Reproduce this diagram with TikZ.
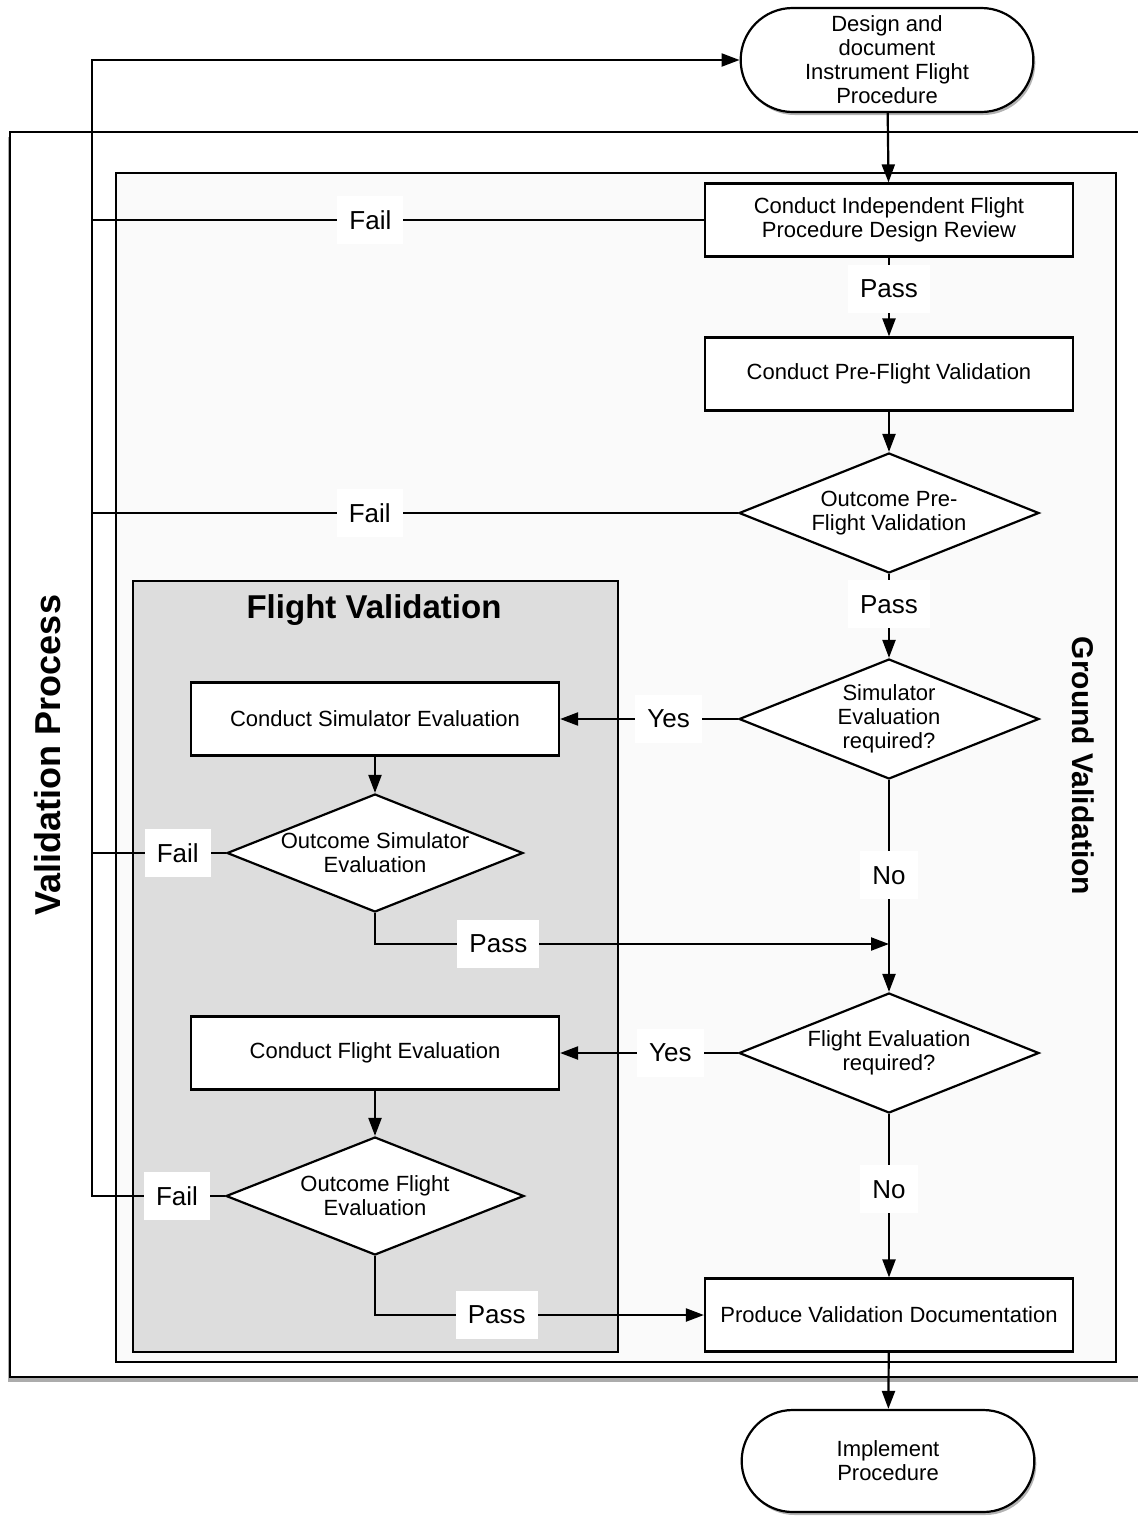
\documentclass[tikz,border=0pt]{standalone}
\usepackage{fontspec}
\setmainfont{Liberation Sans}
\usetikzlibrary{positioning, shapes.geometric, shapes.misc, arrows.meta, shadows}

\begin{document}
% positions in px of the sheet (0.5pt each), sizes in pt
\begin{tikzpicture}[x=0.5pt, y=-0.5pt, line width=1.1pt,
    every node/.style={font=\fontsize{11}{12}\selectfont, align=center},
    box/.style={draw, fill=white, minimum width=184pt, minimum height=36.5pt, inner sep=2pt},
    decision/.style={draw, fill=white, diamond, aspect=2.5, inner sep=0pt, minimum width=150pt, minimum height=60pt},
    term/.style={draw, fill=white, rounded rectangle, minimum width=153pt, minimum height=52pt,
        drop shadow={opacity=0.6, shadow xshift=1pt, shadow yshift=-1.5pt}},
    lbl/.style={fill=white, font=\fontsize{13}{14}\selectfont, inner xsep=6pt, minimum height=24pt},
    arr/.style={-{Triangle[length=9pt, width=6.5pt]}}]

    \useasboundingbox (0,0) rectangle (1137,1516);

    % frames
    \draw[line width=1.4pt, fill=white, drop shadow={opacity=0.65, shadow xshift=-1pt, shadow yshift=-2.5pt}]
        (10,132) rectangle (1160,1377);
    \draw[line width=1.3pt, fill=gray!4] (116,173) rectangle (1116,1362);
    \draw[line width=1.3pt, fill=gray!27] (133,581) rectangle (618,1352);

    \node[font=\fontsize{18}{20}\selectfont\bfseries, rotate=90] (vproc) at (48,755) {Validation Process};
    \node[font=\fontsize{15}{17}\selectfont\bfseries, rotate=-90] (gval) at (1083,766) {Ground Validation};
    \node[font=\fontsize{16.5}{18}\selectfont\bfseries] (fval) at (374,610) {Flight Validation};

    % main column
    \node[term] (start) at (887,60) {Design and\\document\\Instrument Flight\\Procedure};
    \node[box] (review) at (889,220) {Conduct Independent Flight\\Procedure Design Review};
    \node[box] (pre) at (889,374) {Conduct Pre-Flight Validation};
    \node[decision] (outpre) at (889,513) {Outcome Pre-\\Flight Validation};
    \node[decision] (simq) at (889,719) {Simulator\\Evaluation\\required?};
    \node[decision] (flyq) at (889,1053) {Flight Evaluation\\required?};
    \node[box] (doc) at (889,1315) {Produce Validation Documentation};
    \node[term, minimum height=51pt] (finish) at (888,1461) {Implement\\Procedure};

    % flight validation column
    \node[box] (sim) at (375,719) {Conduct Simulator Evaluation};
    \node[decision, minimum width=148pt, minimum height=59pt] (outsim) at (375,853) {Outcome Simulator\\Evaluation};
    \node[box] (fly) at (375,1053) {Conduct Flight Evaluation};
    \node[decision, minimum width=149pt, minimum height=59pt] (outfly) at (375,1196) {Outcome Flight\\Evaluation};

    \coordinate (loop) at (92,60);
    \coordinate (join) at (889,944);

    \draw[arr] (start) -- (review);
    \draw[arr] (review) -- node[lbl, pos=0.4] {Pass} (pre);
    \draw[arr] (pre) -- (outpre);
    \draw[arr] (outpre) -- node[lbl, pos=0.36] {Pass} (simq);
    \draw[arr] (simq) -- node[lbl, pos=0.39] {Yes} (sim);
    \draw[arr] (simq) -- node[lbl, pos=0.45] {No} (flyq);
    \draw[arr] (flyq) -- node[lbl, pos=0.38] {Yes} (fly);
    \draw[arr] (flyq) -- node[lbl, pos=0.46] {No} (doc);
    \draw[arr] (doc) -- (finish);
    \draw[arr] (sim) -- (outsim);
    \draw[arr] (fly) -- (outfly);
    \draw[arr] (outsim.south) |- node[lbl, pos=0.62] {Pass} (join);
    \draw[arr] (outfly.south) |- node[lbl, pos=0.685] {Pass} (doc.west);

    % fail returns
    \draw (review.west) -- node[lbl, pos=0.545] {Fail} (review.west -| loop);
    \draw (outpre.west) -- node[lbl, pos=0.57] {Fail} (outpre.west -| loop);
    \draw (outsim.west) -- node[lbl, pos=0.36] {Fail} (outsim.west -| loop);
    \draw[arr] (outfly.west) -- node[lbl, pos=0.36] {Fail} (outfly.west -| loop) -- (loop) -- (start.west);
\end{tikzpicture}
\end{document}
